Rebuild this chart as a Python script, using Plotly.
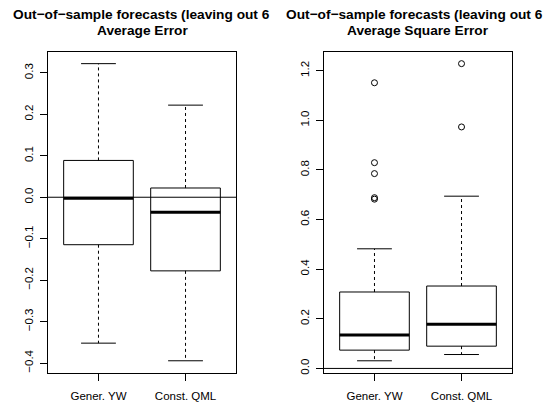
import plotly.graph_objects as go

W, H = 544, 409

categories = ["Gener. YW", "Const. QML"]

# Panel 1: Average Error
ae_upper = [0.3223, 0.2222]
ae_q3 = [0.0888, 0.0223]
ae_median = [-0.0024, -0.0360]
ae_q1 = [-0.1145, -0.1776]
ae_lower = [-0.3520, -0.3945]
ae_outliers = [[], []]

# Panel 2: Average Square Error
ase_upper = [0.482, 0.694]
ase_q3 = [0.308, 0.332]
ase_median = [0.135, 0.178]
ase_q1 = [0.0737, 0.0897]
ase_lower = [0.0308, 0.056]
ase_outliers = [[1.151, 0.829, 0.785, 0.688, 0.682], [1.228, 0.973]]

ae_ticks = [-0.4, -0.3, -0.2, -0.1, 0.0, 0.1, 0.2, 0.3]
ase_ticks = [0.0, 0.2, 0.4, 0.6, 0.8, 1.0, 1.2]

titles_line1 = ["Out\u2212of\u2212sample forecasts (leaving out 6",
                "Out\u2212of\u2212sample forecasts (leaving out 6"]
titles_line2 = ["Average Error", "Average Square Error"]

FONT = "Liberation Sans, Arial, Helvetica, sans-serif"
BOXW = 0.8
CAPW = 0.4

fig = go.Figure()


def add_panel(xa, ya, upper, q3, med, q1, lower, outliers):
    for i in range(len(categories)):
        x = i + 1
        # box
        fig.add_trace(go.Scatter(
            x=[x - BOXW / 2, x + BOXW / 2, x + BOXW / 2, x - BOXW / 2, x - BOXW / 2],
            y=[q1[i], q1[i], q3[i], q3[i], q1[i]],
            mode="lines", line=dict(color="black", width=1),
            fill="toself", fillcolor="white",
            xaxis=xa, yaxis=ya, showlegend=False, hoverinfo="skip"))
        # median
        fig.add_trace(go.Scatter(
            x=[x - BOXW / 2, x + BOXW / 2], y=[med[i], med[i]],
            mode="lines", line=dict(color="black", width=3),
            xaxis=xa, yaxis=ya, showlegend=False, hoverinfo="skip"))
        # whiskers
        fig.add_trace(go.Scatter(
            x=[x, x, None, x, x], y=[q3[i], upper[i], None, q1[i], lower[i]],
            mode="lines", line=dict(color="black", width=1, dash="3px,3px"),
            xaxis=xa, yaxis=ya, showlegend=False, hoverinfo="skip"))
        # caps
        fig.add_trace(go.Scatter(
            x=[x - CAPW / 2, x + CAPW / 2, None, x - CAPW / 2, x + CAPW / 2],
            y=[upper[i], upper[i], None, lower[i], lower[i]],
            mode="lines", line=dict(color="black", width=1),
            xaxis=xa, yaxis=ya, showlegend=False, hoverinfo="skip"))
        if outliers[i]:
            fig.add_trace(go.Scatter(
                x=[x] * len(outliers[i]), y=outliers[i], mode="markers",
                marker=dict(symbol="circle-open", size=6, color="black",
                            line=dict(width=1)),
                xaxis=xa, yaxis=ya, showlegend=False, hoverinfo="skip"))
    # horizontal zero line
    fig.add_trace(go.Scatter(
        x=[0.42, 2.58], y=[0, 0], mode="lines",
        line=dict(color="black", width=1),
        xaxis=xa, yaxis=ya, showlegend=False, hoverinfo="skip"))


add_panel("x", "y", ae_upper, ae_q3, ae_median, ae_q1, ae_lower, ae_outliers)
add_panel("x2", "y2", ase_upper, ase_q3, ase_median, ase_q1, ase_lower, ase_outliers)

ytop = 1 - 52 / H
ybot = 1 - 374.5 / H

axis_common = dict(showline=True, mirror=True, linecolor="black", linewidth=1,
                   ticks="outside", ticklen=7, tickcolor="black", tickwidth=1,
                   showgrid=False, zeroline=False,
                   tickfont=dict(family=FONT, size=11.5, color="black"))

fig.update_layout(
    width=W, height=H,
    margin=dict(l=0, r=0, t=0, b=0),
    paper_bgcolor="white", plot_bgcolor="white",
    xaxis=dict(domain=[48 / W, 236 / W], range=[0.42, 2.58],
               tickvals=[1, 2], ticktext=categories, anchor="y",
               ticklabelstandoff=6, **axis_common),
    yaxis=dict(domain=[ybot, ytop], range=[-0.4232, 0.351],
               tickvals=ae_ticks, tickformat=".1f", tickangle=-90, anchor="x",
               ticklabelstandoff=2, **axis_common),
    xaxis2=dict(domain=[324 / W, 512 / W], range=[0.42, 2.58],
                tickvals=[1, 2], ticktext=categories, anchor="y2",
                ticklabelstandoff=6, **axis_common),
    yaxis2=dict(domain=[ybot, ytop], range=[-0.0171, 1.276],
                tickvals=ase_ticks, tickformat=".1f", tickangle=-90, anchor="x2",
                ticklabelstandoff=2, **axis_common),
)

title_font = dict(family=FONT, size=13.7, color="black")
centers = [142 / W, 418 / W]
starts = [11 / W, 284 / W]
for i in range(2):
    fig.add_annotation(text="<b>" + titles_line1[i] + "</b>", xref="paper", yref="paper",
                       x=starts[i], y=1 - 15 / H, xanchor="left", yanchor="middle",
                       showarrow=False, font=title_font)
    fig.add_annotation(text="<b>" + titles_line2[i] + "</b>", xref="paper", yref="paper",
                       x=centers[i], y=1 - 31 / H, xanchor="center", yanchor="middle",
                       showarrow=False, font=title_font)

fig.write_html("out.html")
